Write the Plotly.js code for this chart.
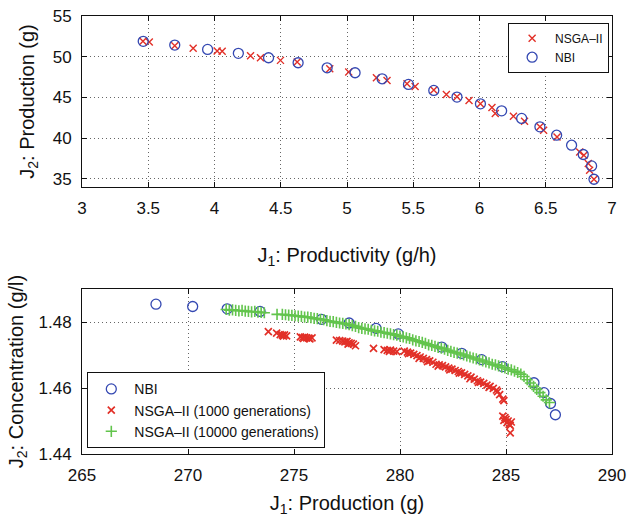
<!DOCTYPE html>
<html>
<head>
<meta charset="utf-8">
<script src="https://cdn.plot.ly/plotly-3.0.1.min.js"></script>
<style>html,body{margin:0;padding:0;background:#fff}#chart{width:627px;height:517px}</style>
</head>
<body>
<div id="chart"></div>
<script>
// ---- Top panel: J1 productivity (g/h) vs J2 production (g) ----
const topNbiX = [3.462, 3.70, 3.948, 4.18, 4.408, 4.631, 4.85, 5.061, 5.265, 5.464, 5.655, 5.83, 6.007, 6.167, 6.318, 6.456, 6.582, 6.695, 6.783, 6.846, 6.864];
const topNbiY = [51.89, 51.43, 50.90, 50.41, 49.87, 49.26, 48.64, 48.03, 47.29, 46.60, 45.86, 45.04, 44.21, 43.35, 42.42, 41.39, 40.36, 39.13, 37.99, 36.59, 34.95];
const topNsgaX = [3.46, 3.508, 3.70, 3.839, 4.02, 4.058, 4.272, 4.347, 4.498, 4.624, 4.87, 5.013, 5.222, 5.302, 5.453, 5.514, 5.655, 5.75, 5.83, 5.921, 6.007, 6.094, 6.119, 6.256, 6.34, 6.456, 6.484, 6.585, 6.756, 6.788, 6.821, 6.831, 6.864];
const topNsgaY = [51.89, 51.80, 51.35, 51.03, 50.70, 50.66, 50.12, 49.87, 49.55, 49.34, 48.52, 48.11, 47.41, 47.09, 46.67, 46.35, 45.90, 45.37, 45.08, 44.63, 44.21, 43.77, 43.03, 42.70, 42.08, 41.39, 40.98, 40.15, 38.31, 37.90, 36.88, 36.06, 34.95];

// ---- Bottom panel: J1 production (g) vs J2 concentration (g/l) ----
const botNbiX = [268.49, 270.22, 271.85, 273.40, 276.30, 277.60, 278.87, 279.92, 281.97, 282.91, 283.85, 284.83, 286.32, 286.79, 287.10, 287.33];
const botNbiY = [1.4854, 1.4847, 1.4840, 1.4832, 1.4808, 1.4797, 1.4781, 1.4764, 1.4724, 1.4705, 1.4686, 1.4665, 1.4616, 1.4586, 1.4553, 1.4519];

const gen1000X = [273.79, 274.18, 274.35, 274.45, 274.55, 274.65, 274.50,
  275.30, 275.40, 275.50, 275.60, 275.70, 275.85, 275.45, 275.75,
  277.00, 277.15, 277.30, 277.40, 277.50, 277.60, 277.70, 277.80, 277.90, 277.55,
  278.75, 279.25, 279.40, 279.55, 279.70, 279.85, 279.50,
  280.20, 280.35, 280.50, 280.65, 280.80, 280.95, 281.10, 281.25, 281.40, 281.55, 281.70, 281.85,
  282.00, 282.15, 282.30, 282.45, 282.60, 282.75, 282.90, 283.05, 283.20, 283.35, 283.50, 283.65,
  283.80, 283.95, 284.10, 284.25, 284.40, 284.55, 284.70, 284.85,
  280.40, 280.90, 281.30, 281.80, 282.35, 282.80, 283.30, 283.70, 284.20, 284.60, 284.90,
  284.85, 284.95, 285.00, 285.10, 285.05, 285.15, 285.20, 284.90, 285.25, 285.20];
const gen1000Y = [1.4771, 1.4766, 1.4762, 1.4760, 1.4761, 1.4758, 1.4757,
  1.4755, 1.4753, 1.4754, 1.4752, 1.4751, 1.4752, 1.4750, 1.4749,
  1.4745, 1.4744, 1.4742, 1.4740, 1.4741, 1.4737, 1.4735, 1.4733, 1.4728, 1.4733,
  1.4720, 1.4716, 1.4714, 1.4715, 1.4712, 1.4710, 1.4711,
  1.4712, 1.4709, 1.4706, 1.4702, 1.4698, 1.4694, 1.4690, 1.4686, 1.4682, 1.4678, 1.4672, 1.4670,
  1.4668, 1.4664, 1.4660, 1.4657, 1.4653, 1.4650, 1.4646, 1.4641, 1.4637, 1.4633, 1.4627, 1.4622,
  1.4618, 1.4614, 1.4609, 1.4605, 1.4599, 1.4594, 1.4580, 1.4566,
  1.4704, 1.4690, 1.4680, 1.4666, 1.4655, 1.4645, 1.4628, 1.4617, 1.4602, 1.4589, 1.4562,
  1.4515, 1.4510, 1.4505, 1.4500, 1.4495, 1.4490, 1.4487, 1.4502, 1.4497, 1.4464];

const gen10000X = [271.80, 271.95, 272.10, 272.25, 272.40, 272.55, 272.70, 272.85, 273.00, 273.15, 273.30, 273.45, 273.60,
  274.20, 274.45, 274.60, 274.75, 274.90, 275.05, 275.20, 275.35, 275.50, 275.65, 275.80, 275.95,
  276.10, 276.25, 276.40, 276.55, 276.70, 276.85, 277.00, 277.15, 277.30, 277.45, 277.60, 277.75, 277.90,
  278.05, 278.20, 278.35, 278.50, 278.65, 278.80, 278.95, 279.10, 279.25, 279.40, 279.55, 279.70, 279.85,
  280.00, 280.15, 280.30, 280.45, 280.60, 280.75, 280.90, 281.05, 281.20, 281.35, 281.50, 281.65, 281.80, 281.95,
  282.10, 282.25, 282.40, 282.55, 282.70, 282.85, 283.00, 283.15, 283.30, 283.45, 283.60, 283.75, 283.90,
  284.05, 284.20, 284.35, 284.50, 284.65, 284.80, 284.95, 285.10, 285.25, 285.40, 285.55, 285.70, 285.85,
  286.00, 286.15, 286.30, 286.45, 286.60, 286.75, 286.90, 287.05];
const gen10000Y = [1.4838, 1.4836, 1.4837, 1.4835, 1.4834, 1.4835, 1.4833, 1.4832, 1.4831, 1.4832, 1.4830, 1.4829, 1.4828,
  1.4823, 1.4823, 1.4822, 1.4821, 1.4820, 1.4819, 1.4818, 1.4817, 1.4815, 1.4815, 1.4813, 1.4811,
  1.4810, 1.4808, 1.4807, 1.4804, 1.4802, 1.4801, 1.4799, 1.4797, 1.4796, 1.4794, 1.4792, 1.4789, 1.4787,
  1.4783, 1.4781, 1.4779, 1.4778, 1.4775, 1.4773, 1.4772, 1.4769, 1.4768, 1.4766, 1.4764, 1.4762, 1.4760,
  1.4757, 1.4755, 1.4752, 1.4750, 1.4746, 1.4743, 1.4741, 1.4738, 1.4735, 1.4731, 1.4729, 1.4726, 1.4723, 1.4721,
  1.4718, 1.4714, 1.4711, 1.4708, 1.4706, 1.4703, 1.4700, 1.4697, 1.4694, 1.4691, 1.4688, 1.4685, 1.4682,
  1.4679, 1.4676, 1.4672, 1.4670, 1.4667, 1.4663, 1.4661, 1.4657, 1.4655, 1.4651, 1.4647, 1.4642, 1.4635,
  1.4625, 1.4615, 1.4605, 1.4596, 1.4586, 1.4575, 1.4564, 1.4556];

const topXTicks = [3, 3.5, 4, 4.5, 5, 5.5, 6, 6.5, 7];
const topYTicks = [35, 40, 45, 50, 55];
const botXTicks = [265, 270, 275, 280, 285, 290];
const botYTicks = [1.44, 1.46, 1.48];

const RED = 'rgb(226,48,40)';
const BLUE = 'rgb(52,72,178)';
const GREEN = 'rgb(98,196,76)';
const FONT = 'Liberation Sans, Arial, Helvetica, sans-serif';

const traces = [
  {x: topNsgaX, y: topNsgaY, name: 'NSGA–II', type: 'scatter', mode: 'markers', xaxis: 'x', yaxis: 'y', legend: 'legend',
   marker: {symbol: 'x-thin-open', size: 7, color: RED, line: {color: RED, width: 1.4}}},
  {x: topNbiX, y: topNbiY, name: 'NBI', type: 'scatter', mode: 'markers', xaxis: 'x', yaxis: 'y', legend: 'legend',
   marker: {symbol: 'circle-open', size: 10, color: BLUE, line: {color: BLUE, width: 1.3}}},
  {x: botNbiX, y: botNbiY, name: 'NBI', type: 'scatter', mode: 'markers', xaxis: 'x2', yaxis: 'y2', legend: 'legend2',
   marker: {symbol: 'circle-open', size: 10, color: BLUE, line: {color: BLUE, width: 1.3}}},
  {x: gen1000X, y: gen1000Y, name: 'NSGA–II (1000 generations)', type: 'scatter', mode: 'markers', xaxis: 'x2', yaxis: 'y2', legend: 'legend2',
   marker: {symbol: 'x-thin-open', size: 7, color: RED, line: {color: RED, width: 1.7}}},
  {x: gen10000X, y: gen10000Y, name: 'NSGA–II (10000 generations)', type: 'scatter', mode: 'markers', xaxis: 'x2', yaxis: 'y2', legend: 'legend2',
   marker: {symbol: 'cross-thin-open', size: 8, color: GREEN, line: {color: GREEN, width: 1.6}}}
];

const axisBase = {
  showline: true, linecolor: '#111', linewidth: 1, mirror: 'ticks',
  ticks: 'inside', ticklen: 5, tickcolor: '#111', tickwidth: 1,
  showgrid: true, gridcolor: '#666', gridwidth: 1, griddash: '1px,3px',
  zeroline: false, tickfont: {family: FONT, size: 17, color: '#111'},
  fixedrange: true
};

const layout = {
  width: 627, height: 517,
  margin: {l: 82, r: 15, t: 16, b: 63},
  paper_bgcolor: '#fff', plot_bgcolor: '#fff',
  font: {family: FONT, color: '#111'},
  showlegend: true,
  xaxis: Object.assign({}, axisBase, {
    anchor: 'y', domain: [0, 1], range: [3, 7], tickmode: 'array', tickvals: topXTicks,
    ticktext: topXTicks.map(String), ticklabelstandoff: 6,
    title: {text: 'J<sub>1</sub>: Productivity (g/h)', font: {family: FONT, size: 20, color: '#111'}, standoff: 30}
  }),
  yaxis: Object.assign({}, axisBase, {
    anchor: 'x', domain: [0.6096, 1], range: [34, 55], tickmode: 'array', tickvals: topYTicks,
    ticktext: topYTicks.map(String), ticklabelstandoff: 6,
    title: {text: 'J<sub>2</sub>: Production (g)', font: {family: FONT, size: 20, color: '#111'}, standoff: 12}
  }),
  xaxis2: Object.assign({}, axisBase, {
    anchor: 'y2', domain: [0, 1], range: [265, 290], tickmode: 'array', tickvals: botXTicks,
    ticktext: botXTicks.map(String), ticklabelstandoff: 6,
    title: {text: 'J<sub>1</sub>: Production (g)', font: {family: FONT, size: 20, color: '#111'}, standoff: 30}
  }),
  yaxis2: Object.assign({}, axisBase, {
    anchor: 'x2', domain: [0, 0.3767], range: [1.44, 1.49], tickmode: 'array', tickvals: botYTicks,
    ticktext: botYTicks.map(v => v.toFixed(2)), ticklabelstandoff: 6,
    title: {text: 'J<sub>2</sub>: Concentration (g/l)', font: {family: FONT, size: 20, color: '#111'}, standoff: 9}
  }),
  legend: {
    x: 0.804, y: 0.9847, xanchor: 'left', yanchor: 'top',
    bgcolor: '#fff', bordercolor: '#111', borderwidth: 1,
    font: {family: FONT, size: 12, color: '#111'}, itemwidth: 36, tracegroupgap: 0
  },
  legend2: {
    x: 0.01, y: 0.013, xanchor: 'left', yanchor: 'bottom',
    bgcolor: '#fff', bordercolor: '#111', borderwidth: 1,
    font: {family: FONT, size: 14, color: '#111'}, itemwidth: 36, tracegroupgap: 0
  }
};

Plotly.newPlot('chart', traces, layout, {displayModeBar: false, staticPlot: true});
</script>
</body>
</html>
